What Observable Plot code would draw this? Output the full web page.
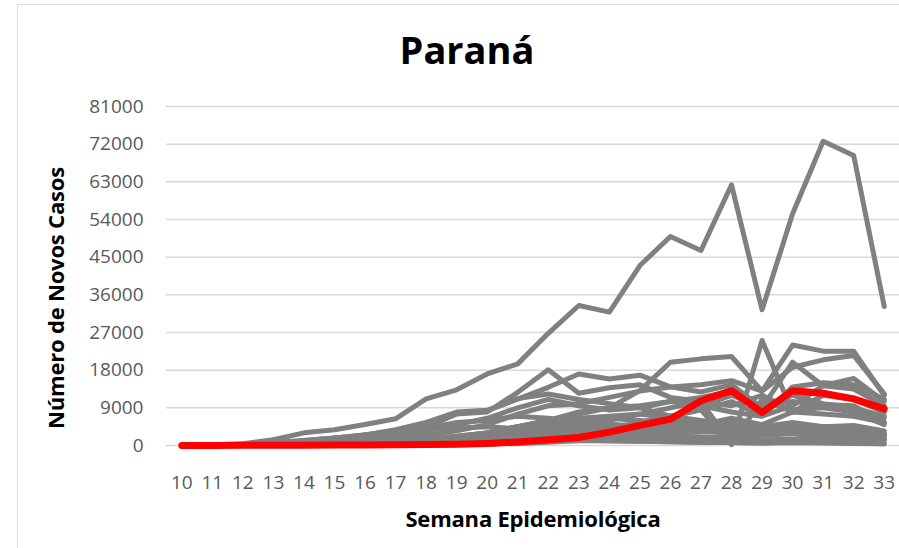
<!DOCTYPE html>
<html>
<head>
<meta charset="utf-8">
<script src="https://cdn.jsdelivr.net/npm/d3@7"></script>
<script src="https://cdn.jsdelivr.net/npm/@observablehq/plot@0.6"></script>
<style>
  html, body { margin: 0; padding: 0; background: #fff; }
  #wrap { position: relative; width: 899px; height: 548px; overflow: hidden; font-family: "Open Sans", sans-serif; }
  #frame { position: absolute; left: 17px; top: 4px; width: 900px; height: 560px; border-left: 1.5px solid #d9d9d9; border-top: 1.5px solid #d9d9d9; }
  #chart { position: absolute; left: 0; top: 0; }
  #title { position: absolute; left: 0; width: 934px; top: 30px; text-align: center; font-weight: 700; font-size: 38px; color: #000; line-height: 1; }
  #ytitle { position: absolute; left: 55px; top: 298px; transform: translate(-50%, -50%) rotate(-90deg); white-space: nowrap; font-weight: 700; font-size: 22px; letter-spacing: -0.2px; color: #000; }
  #xtitle { position: absolute; left: 533px; top: 518px; transform: translate(-50%, -50%); white-space: nowrap; font-weight: 700; font-size: 22px; letter-spacing: -0.2px; color: #000; }
</style>
</head>
<body>
<div id="wrap">
  <div id="frame"></div>
  <div id="chart"></div>
  <div id="title">Paraná</div>
  <div id="ytitle">Número de Novos Casos</div>
  <div id="xtitle">Semana Epidemiológica</div>
</div>
<script>
// Semanas epidemiológicas
const weeks = [10,11,12,13,14,15,16,17,18,19,20,21,22,23,24,25,26,27,28,29,30,31,32,33];
const yTicks = [0,9000,18000,27000,36000,45000,54000,63000,72000,81000];

// Paraná (destaque)
const PR = [0,20,40,60,80,100,130,170,220,290,500,850,1350,1900,3200,4800,6300,10700,13100,7900,13100,12500,11150,8760];

// Demais estados (cinza)
const SP = [0,100,400,1360,3030,3750,5000,6380,11150,13300,17100,19500,26800,33450,31860,43000,49940,46600,62290,32420,55360,72700,69300,33200];
const RJ = [0,50,200,500,1200,1800,2500,3500,4500,7500,8000,12700,18100,12500,13800,14500,11500,10500,9500,12000,8500,9000,8000,5000];
const CE = [0,30,150,400,900,1500,2500,3000,4000,7800,8300,11100,13900,17100,15900,16800,14000,12800,14500,9000,10500,9800,9500,5500];
const MG = [0,20,80,150,300,500,700,1000,1500,2200,3000,4500,6000,8000,9000,13100,19900,20700,21270,13000,24000,22540,22540,11950];
const BA = [0,20,80,200,500,800,1200,1700,2500,3500,5000,7500,9500,10000,11500,13000,14000,14500,15500,13000,18700,20470,21500,12340];
const GO = [0,5,20,50,100,200,300,500,700,1000,1500,2500,3500,5000,6000,7500,9000,10500,300,25100,8000,12000,11000,8000];
const PE = [0,20,100,300,700,1200,1800,2500,3500,5000,6500,9000,11000,9500,8500,9000,10500,9500,8000,7000,9500,14300,16000,10500];
const PA = [0,10,50,150,500,1200,2500,3800,5500,8000,8400,11200,12300,11000,10000,9000,7000,6000,5000,4500,4000,3500,3800,2500];
const AM = [0,50,300,700,1200,1800,2500,3500,4000,4200,4500,4000,3500,3000,2800,2500,2300,2000,2200,2500,2800,2000,2200,1500];
const MA = [0,10,50,200,500,1000,1800,2800,4000,5500,6000,7000,6500,5500,5000,4500,4000,3500,3200,3000,3500,3000,2500,1800];
const SC = [0,10,30,60,100,150,200,300,400,600,800,1200,1800,2500,3500,5000,6500,9500,12000,9000,19900,14300,13500,9500];
const RS = [0,10,30,60,100,150,250,350,500,700,1000,1500,2000,3000,4000,5500,7000,8500,10500,7000,14000,15000,14500,11000];
const DF = [0,5,20,50,100,200,400,700,1100,1800,3000,4500,6000,7500,9000,9500,10500,11500,13000,9000,12000,10000,9000,6500];
const ES = [0,5,20,60,150,300,500,900,1500,2200,3000,4000,5500,6000,6500,6000,5500,5000,5500,3500,5000,4500,4800,3500];
const PB = [0,5,10,30,80,200,400,700,1200,2000,3000,4500,5500,6500,7000,7500,6500,5500,5000,4500,5500,4500,4000,3000];
const RN = [0,5,10,30,80,150,300,500,800,1300,2000,3000,4000,4500,4800,5000,4500,4200,3500,3500,3000,2800,2500,1500];
const AL = [0,5,10,20,50,100,200,400,800,1500,2500,3500,4500,5500,5000,4500,4000,3500,3000,2500,3000,2500,2200,1500];
const SE = [0,5,10,20,30,60,100,200,400,700,1200,2000,2800,3500,4000,4500,5000,4500,4000,4500,4000,3500,3200,2500];
const PI = [0,5,10,20,50,100,200,300,500,800,1200,1800,2500,3000,3500,4000,4500,4800,5000,4000,4500,4000,3800,2800];
const MT = [0,5,10,20,40,60,100,150,250,400,600,1000,1500,2500,3500,5000,7000,8500,200,11000,8000,9500,9000,7000];
const RO = [0,0,5,10,30,60,100,200,400,700,1000,1500,2000,2500,3000,3500,3800,4000,4200,3500,4500,4000,3500,2500];
const AP = [0,5,20,60,150,300,600,1000,1500,2000,2500,2200,1800,1500,1200,1000,900,800,700,600,800,700,600,400];
const RR = [0,0,5,10,30,60,100,200,400,700,1000,1300,1600,1800,2000,2000,1800,1600,1500,1400,1500,1300,1200,900];
const TO = [0,0,5,10,20,40,80,150,250,400,600,900,1200,1600,2000,2500,3000,3200,3500,3000,3800,3500,3200,2500];
const AC = [0,0,5,10,30,60,100,200,300,500,700,900,1100,1200,1100,1000,900,800,700,600,700,600,500,400];
const MS = [0,0,5,10,20,30,50,80,120,200,300,500,800,1200,1800,2500,3500,5000,6500,5000,8000,7500,7000,5500];

const otherStates = { SP, RJ, CE, MG, BA, GO, PE, PA, AM, MA, SC, RS, DF, ES, PB, RN, AL, SE, PI, MT, RO, AP, RR, TO, AC, MS };

const grayData = [];
for (const [state, vals] of Object.entries(otherStates)) {
  vals.forEach((v, i) => grayData.push({ state, week: weeks[i], value: v }));
}
const prData = PR.map((v, i) => ({ week: weeks[i], value: v }));

const chart = Plot.plot({
  width: 899,
  height: 548,
  marginLeft: 166,
  marginRight: 0,
  marginTop: 106,
  marginBottom: 103,
  style: { fontFamily: "'Open Sans', sans-serif", fontSize: "19px", color: "#595959", background: "transparent", overflow: "visible" },
  x: { domain: [9.5, 33.5], label: null },
  y: { domain: [0, 81000], label: null },
  marks: [
    Plot.gridY(yTicks, { stroke: "#d9d9d9", strokeOpacity: 1, strokeWidth: 1.5 }),
    Plot.axisY(yTicks, { tickSize: 0, tickPadding: 23, tickFormat: d => String(d), label: null }),
    Plot.axisX(weeks, { tickSize: 0, tickPadding: 30, tickFormat: d => String(d), label: null }),
    Plot.line(grayData, { x: "week", y: "value", z: "state", stroke: "#808080", strokeWidth: 5, strokeLinejoin: "round", strokeLinecap: "round" }),
    Plot.line(prData, { x: "week", y: "value", stroke: "#ff0000", strokeWidth: 7, strokeLinejoin: "round", strokeLinecap: "round" })
  ]
});
document.getElementById("chart").appendChild(chart);
</script>
</body>
</html>
